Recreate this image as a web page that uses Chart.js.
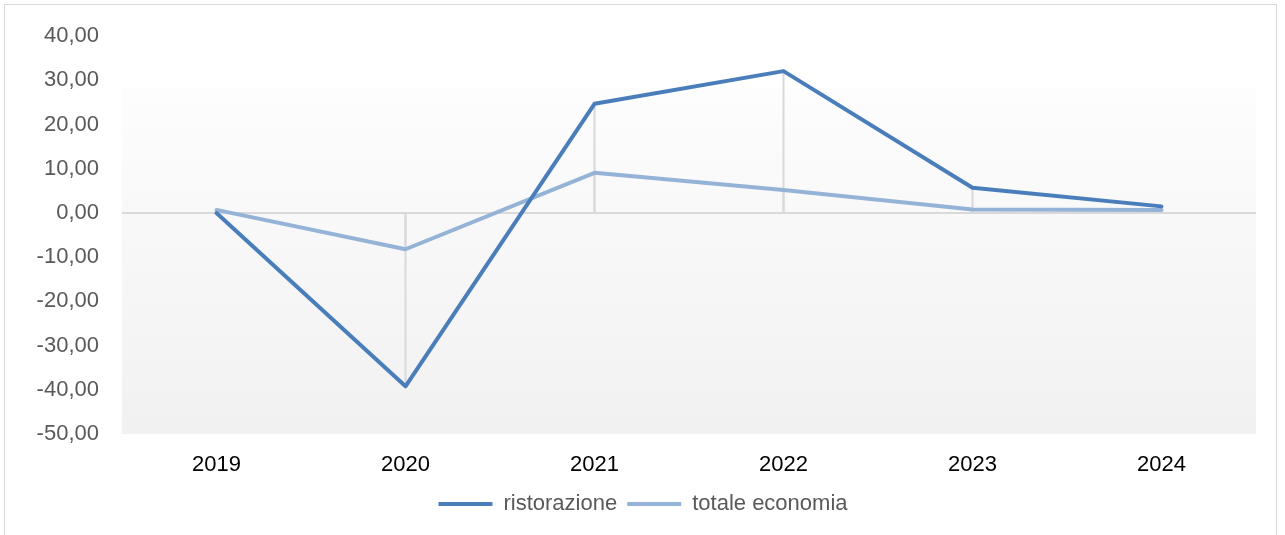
<!DOCTYPE html>
<html>
<head>
<meta charset="utf-8">
<script src="https://cdn.jsdelivr.net/npm/chart.js@4/dist/chart.umd.min.js"></script>
<style>
  html, body { margin: 0; padding: 0; background: #ffffff; overflow: hidden; }
  #wrap { position: relative; width: 1285px; height: 535px; }
  #frame { position: absolute; left: 4px; top: 4px; width: 1273px; height: 560px; border: 1px solid #d9d9d9; box-sizing: border-box; }
  canvas { position: absolute; left: 0; top: 0; }
</style>
</head>
<body>
<div id="wrap">
  <div id="frame"></div>
  <canvas id="c" width="1285" height="535"></canvas>
</div>
<script>
const categories = ['2019', '2020', '2021', '2022', '2023', '2024'];
const ristorazione = [0.0, -39.2, 24.7, 32.1, 5.7, 1.5];
const totaleEconomia = [0.7, -8.2, 9.1, 5.2, 0.8, 0.7];
const seriesNames = ['ristorazione', 'totale economia'];
const yMin = -50, yMax = 40, yStep = 10;

const FONT = '"Liberation Sans", Arial, sans-serif';

const backgroundPlugin = {
  id: 'plotBg',
  beforeDraw(chart) {
    const { ctx, chartArea } = chart;
    const top = chartArea.top + 52;
    const g = ctx.createLinearGradient(0, top, 0, chartArea.bottom);
    g.addColorStop(0, '#fdfdfd');
    g.addColorStop(1, '#f1f1f1');
    ctx.save();
    ctx.fillStyle = g;
    ctx.fillRect(chartArea.left, top, chartArea.right - chartArea.left, chartArea.bottom - top);
    ctx.restore();
  }
};

const dropLinesPlugin = {
  id: 'dropLines',
  beforeDatasetsDraw(chart) {
    const { ctx } = chart;
    const y0 = chart.scales.y.getPixelForValue(0);
    ctx.save();
    ctx.strokeStyle = '#d9d9d9';
    ctx.lineWidth = 2;
    chart.data.datasets.forEach((ds, i) => {
      chart.getDatasetMeta(i).data.forEach(pt => {
        ctx.beginPath();
        ctx.moveTo(pt.x, pt.y);
        ctx.lineTo(pt.x, y0);
        ctx.stroke();
      });
    });
    ctx.restore();
  }
};

new Chart(document.getElementById('c'), {
  type: 'line',
  data: {
    labels: categories,
    datasets: [
      { label: seriesNames[0], data: ristorazione, borderColor: '#4a7ebb', backgroundColor: '#4a7ebb', borderWidth: 4, pointRadius: 0, tension: 0, borderCapStyle: 'round', borderJoinStyle: 'round' },
      { label: seriesNames[1], data: totaleEconomia, borderColor: '#95b3d7', backgroundColor: '#95b3d7', borderWidth: 4, pointRadius: 0, tension: 0, borderCapStyle: 'round', borderJoinStyle: 'round' }
    ]
  },
  options: {
    responsive: false,
    animation: false,
    devicePixelRatio: 1,
    layout: { padding: { top: 35, right: 29, bottom: 10, left: 30 } },
    plugins: {
      tooltip: { enabled: false },
      legend: {
        position: 'bottom',
        labels: {
          boxWidth: 54,
          boxHeight: 4,
          padding: 10,
          color: '#595959',
          font: { family: FONT, size: 22 },
          generateLabels(chart) {
            return chart.data.datasets.map((ds, i) => ({
              text: ds.label,
              fillStyle: ds.borderColor,
              strokeStyle: ds.borderColor,
              lineWidth: 0,
              fontColor: '#595959',
              datasetIndex: i
            }));
          }
        }
      }
    },
    scales: {
      x: {
        offset: true,
        grid: { display: false, drawTicks: false },
        border: { display: false },
        ticks: { color: '#000000', padding: 18, font: { family: FONT, size: 22 }, maxRotation: 0 },
        afterFit(scale) { scale.height = 49; }
      },
      y: {
        min: yMin,
        max: yMax,
        grid: {
          drawTicks: false,
          lineWidth: 2,
          color: ctx => (ctx.tick && ctx.tick.value === 0 ? '#d9d9d9' : 'rgba(0,0,0,0)')
        },
        border: { display: false },
        ticks: {
          stepSize: yStep,
          padding: 23,
          color: '#595959',
          font: { family: FONT, size: 22 },
          callback: v => v.toFixed(2).replace('.', ',')
        },
        afterFit(scale) { scale.width = 92; }
      }
    }
  },
  plugins: [backgroundPlugin, dropLinesPlugin]
});
</script>
</body>
</html>
